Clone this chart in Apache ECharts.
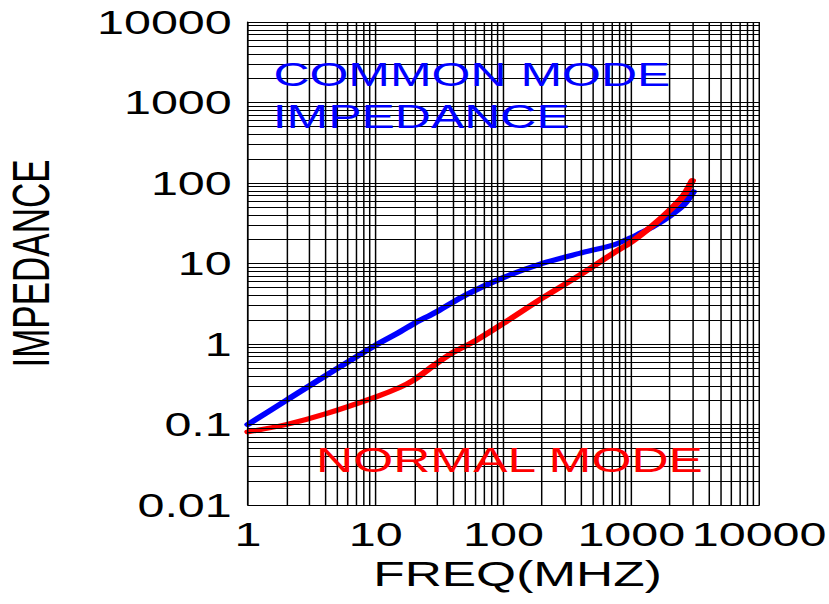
<!DOCTYPE html>
<html>
<head>
<meta charset="utf-8">
<script src="https://cdn.jsdelivr.net/npm/echarts@6/dist/echarts.min.js"></script>
<style>
html,body{margin:0;padding:0;background:#fff;overflow:hidden;width:829px;height:604px}
#chart{width:564px;height:604px;transform:scaleX(1.47);transform-origin:0 0;}
</style>
</head>
<body>
<div id="chart"></div>
<script>
// ---- data ----
const commonFreq = [1, 2, 4, 10, 15.5, 20, 30, 51, 100, 200, 396, 722, 1000, 1167, 1480, 2000, 2550, 3050];
const commonZ    = [0.10, 0.20, 0.40, 0.97, 1.42, 1.8, 2.52, 4.1, 6.7, 10, 13.4, 17, 21, 23.7, 28.7, 39, 53, 78];

const normalFreq = [1, 2, 4, 10, 15.5, 20, 30, 40, 61.5, 100, 200, 396, 722, 1000, 1480, 2000, 2550, 3000];
const normalZ    = [0.081, 0.10, 0.135, 0.22, 0.29, 0.36, 0.575, 0.78, 1.12, 1.81, 3.7, 7.2, 13.4, 18.5, 30, 46, 69, 107];

const xTickLabels = ['1', '10', '100', '1000', '10000'];
const yTickLabels = ['0.01', '0.1', '1', '10', '100', '1000', '10000'];

const gridMantissas = [1, 2, 3, 4, 5, 6, 7, 8, 9];
const xDecades = [1, 10, 100, 1000];
const yDecades = [0.01, 0.1, 1, 10, 100, 1000];
const xMin = 1, xMax = 10000, yMin = 0.01, yMax = 10000;

// ---- build ----
const xGrid = xDecades.flatMap(d => gridMantissas.map(m => +(m * d).toPrecision(3))).concat([xMax]);
const yGrid = yDecades.flatMap(d => gridMantissas.map(m => +(m * d).toPrecision(3))).concat([yMax]);

const FONT = "'Liberation Sans', Arial, sans-serif";
const chart = echarts.init(document.getElementById('chart'), null, {renderer: 'svg'});

chart.setOption({
  animation: false,
  backgroundColor: '#ffffff',
  grid: {left: 168.7, right: 47.6, top: 22, bottom: 99, containLabel: false, outerBoundsMode: 'none'},
  xAxis: {
    type: 'log', logBase: 10, min: xMin, max: xMax,
    name: 'FREQ(MHZ)', nameLocation: 'middle', nameGap: 51,
    nameTextStyle: {fontFamily: FONT, fontSize: 35, color: '#000', padding: [0, 0, 0, 19]},
    axisLine: {show: true, lineStyle: {color: '#000', width: 1}},
    axisTick: {show: false},
    splitLine: {show: false},
    minorTick: {show: false},
    axisLabel: {
      fontFamily: FONT, fontSize: 33, color: '#000', margin: 13,
      showMinLabel: true, showMaxLabel: true,
      formatter: (v, i) => xTickLabels[i]
    }
  },
  yAxis: {
    type: 'log', logBase: 10, min: yMin, max: yMax,
    name: 'IMPEDANCE', nameLocation: 'middle', nameGap: 130,
    nameTextStyle: {fontFamily: FONT, fontSize: 35, color: '#000'},
    axisLine: {show: true, lineStyle: {color: '#000', width: 1}},
    axisTick: {show: false},
    splitLine: {show: false},
    minorTick: {show: false},
    axisLabel: {
      fontFamily: FONT, fontSize: 33, color: '#000', margin: 11,
      showMinLabel: true, showMaxLabel: true,
      formatter: (v, i) => yTickLabels[i]
    }
  },
  tooltip: {show: false},
  series: [
    {
      name: 'grid', type: 'line', data: [], silent: true, z: 1,
      markLine: {
        silent: true, animation: false, symbol: ['none', 'none'],
        label: {show: false},
        emphasis: {disabled: true},
        lineStyle: {color: '#000', width: 1, type: 'solid'},
        data: xGrid.map(v => ({xAxis: v})).concat(yGrid.map(v => ({yAxis: v})))
      }
    },
    {
      name: 'COMMON MODE IMPEDANCE', type: 'line', z: 3,
      data: commonFreq.map((f, i) => [f, commonZ[i]]),
      smooth: 0.3, symbol: 'none',
      lineStyle: {color: '#0000ff', width: 5, cap: 'round'},
      itemStyle: {color: '#0000ff'}
    },
    {
      name: 'NORMAL MODE', type: 'line', z: 4,
      data: normalFreq.map((f, i) => [f, normalZ[i]]),
      smooth: 0.3, symbol: 'none',
      lineStyle: {color: '#ff0000', width: 5, cap: 'round'},
      itemStyle: {color: '#ff0000'}
    }
  ],
  graphic: [
    {type: 'text', z: 10, silent: true,
     style: {text: 'COMMON MODE', x: 186, y: 74, fill: '#0000ff', font: '34px ' + FONT, fontSize: 34, fontFamily: FONT, align: 'left', verticalAlign: 'middle'}},
    {type: 'text', z: 10, silent: true,
     style: {text: 'IMPEDANCE', x: 185.5, y: 116.5, fill: '#0000ff', font: '34px ' + FONT, fontSize: 34, fontFamily: FONT, align: 'left', verticalAlign: 'middle'}},
    {type: 'text', z: 10, silent: true,
     style: {text: 'NORMAL MODE', x: 215, y: 460, fill: '#ff0000', font: '35px ' + FONT, fontSize: 35, fontFamily: FONT, align: 'left', verticalAlign: 'middle'}}
  ]
});
</script>
</body>
</html>
